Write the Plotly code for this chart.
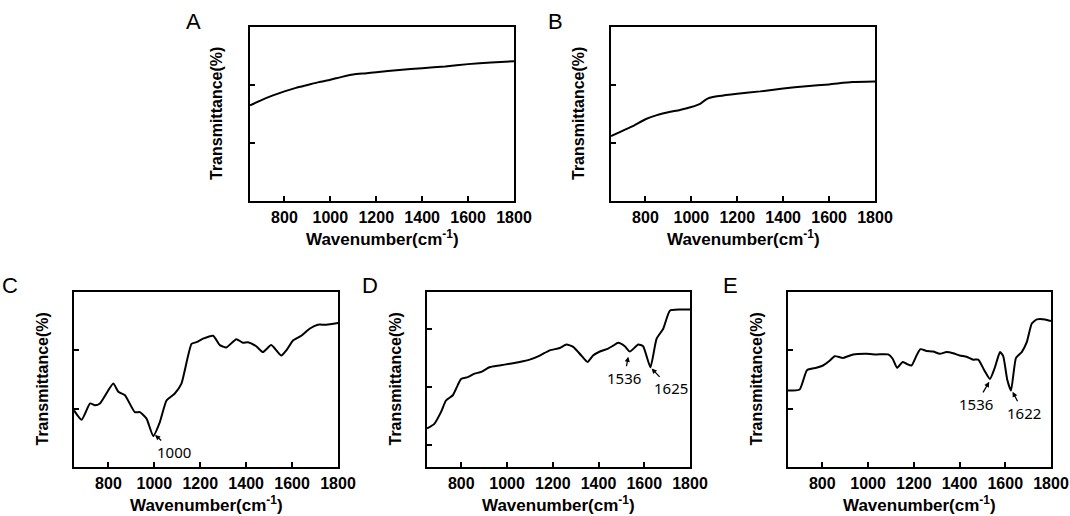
import plotly.graph_objects as go

W, H = 1070, 516

# ---------------- data ----------------
wn_a = [650, 700, 750, 800, 850, 900, 950, 1000, 1050, 1100, 1150, 1200, 1300, 1400, 1500, 1600, 1700, 1800]
t_a = [1.65, 1.74, 1.82, 1.89, 1.95, 2.00, 2.05, 2.09, 2.14, 2.18, 2.20, 2.22, 2.26, 2.29, 2.32, 2.36, 2.39, 2.41]

wn_b = [650, 700, 750, 800, 850, 900, 950, 1000, 1040, 1060, 1080, 1120, 1200, 1300, 1400, 1500, 1600, 1700, 1800]
t_b = [1.12, 1.21, 1.30, 1.41, 1.48, 1.53, 1.57, 1.62, 1.68, 1.74, 1.78, 1.81, 1.85, 1.89, 1.94, 1.98, 2.01, 2.05, 2.06]

wn_c = [650, 683, 720, 741, 763, 821, 843, 872, 915, 937, 966, 995, 1024, 1053, 1089, 1118, 1162, 1183,
        1212, 1256, 1285, 1314, 1357, 1386, 1408, 1444, 1473, 1509, 1553, 1575, 1604, 1640, 1676, 1712, 1749, 1800]
t_c = [0.97, 0.81, 1.09, 1.06, 1.09, 1.43, 1.29, 1.23, 0.94, 0.94, 0.83, 0.53, 0.77, 1.14, 1.26, 1.43, 2.11, 2.14,
       2.20, 2.25, 2.09, 2.05, 2.19, 2.13, 2.14, 2.07, 1.97, 2.09, 1.91, 2.00, 2.17, 2.25, 2.37, 2.44, 2.44, 2.47]

wn_d = [650, 682, 711, 733, 763, 784, 799, 828, 858, 887, 923, 967, 1011, 1055, 1099, 1143, 1187, 1230, 1260,
        1289, 1325, 1352, 1376, 1406, 1442, 1464, 1486, 1515, 1537, 1574, 1595, 1627, 1654, 1683, 1712, 1756, 1800]
t_d = [1.29, 1.37, 1.57, 1.77, 1.86, 2.03, 2.14, 2.17, 2.23, 2.26, 2.34, 2.37, 2.40, 2.43, 2.47, 2.54, 2.63, 2.67, 2.73,
       2.69, 2.54, 2.43, 2.54, 2.61, 2.66, 2.71, 2.76, 2.70, 2.61, 2.73, 2.70, 2.34, 2.83, 3.00, 3.31, 3.33, 3.33]

wn_e = [650, 701, 733, 774, 803, 832, 854, 891, 935, 993, 1037, 1088, 1107, 1127, 1151, 1168, 1190, 1212, 1229,
        1256, 1285, 1314, 1343, 1372, 1401, 1431, 1460, 1482, 1508, 1533, 1555, 1577, 1591, 1609, 1625, 1647,
        1672, 1694, 1716, 1738, 1774, 1800]
t_e = [1.31, 1.33, 1.66, 1.70, 1.74, 1.82, 1.90, 1.87, 1.93, 1.94, 1.93, 1.93, 1.86, 1.70, 1.80, 1.77, 1.74, 1.91, 2.02,
       1.99, 1.98, 1.94, 1.97, 1.95, 1.91, 1.89, 1.84, 1.84, 1.66, 1.51, 1.71, 1.97, 1.90, 1.49, 1.31, 1.87,
       1.97, 2.14, 2.46, 2.53, 2.53, 2.50]

x_ticks = [800, 1000, 1200, 1400, 1600, 1800]
x_tick_labels = ["800", "1000", "1200", "1400", "1600", "1800"]

panel_names = ["A", "B", "C", "D", "E"]
panel_x = [wn_a, wn_b, wn_c, wn_d, wn_e]
panel_y = [t_a, t_b, t_c, t_d, t_e]
y_ranges = [[0, 3], [0, 3], [0, 3], [0.63, 3.63], [0, 3]]
y_tickvals = [[1, 2], [1, 2], [1, 2], [1, 2, 3], [1, 2]]

# peak labels
peak_panel = [2, 3, 3, 4, 4]
peak_text = ["1000", "1536", "1625", "1536", "1622"]
peak_wn = [1003, 1530, 1632, 1530, 1632]
peak_val = [0.55, 2.52, 2.32, 1.46, 1.29]

# ---------------- layout (pixel boxes) ----------------
box_px = [(250, 514, 27, 201), (611, 875, 27, 201), (74, 338, 292, 467), (427, 690, 292, 467), (788, 1051, 292, 467)]
ytitle_px = [217, 579, 42, 395, 756]
letter_px = [(193, 22), (555, 22), (10, 285), (370, 285), (730, 285)]
peak_offsets = [(19, 17), (-4, 21), (19, 20), (-13, 22), (11, 21)]

fig = go.Figure()
layout = dict(width=W, height=H, margin=dict(l=0, r=0, t=0, b=0, autoexpand=False), template="none",
              paper_bgcolor="white", plot_bgcolor="white", showlegend=False)
annotations = []
FONT = "Liberation Sans"

for i, name in enumerate(panel_names):
    xl, xr, yt, yb = box_px[i]
    k = "" if i == 0 else str(i + 1)
    fig.add_trace(go.Scatter(x=panel_x[i], y=panel_y[i], mode="lines", xaxis="x" + k, yaxis="y" + k,
                             line=dict(color="black", width=2, shape="spline", smoothing=0.5),
                             hoverinfo="skip"))
    layout["xaxis" + k] = dict(domain=[xl / W, xr / W], anchor="y" + k, range=[650, 1800],
                              tickvals=x_ticks, ticktext=["<b>%s</b>" % t for t in x_tick_labels],
                              ticks="inside", ticklen=5, tickwidth=1.5, tickcolor="black",
                              ticklabelstandoff=1, automargin=False,
                              showline=True, mirror=True, linecolor="black", linewidth=2,
                              showgrid=False, zeroline=False,
                              tickfont=dict(family=FONT, size=16, color="black"))
    layout["yaxis" + k] = dict(domain=[1 - yb / H, 1 - yt / H], anchor="x" + k, range=y_ranges[i],
                              tickvals=y_tickvals[i], showticklabels=False, ticks="inside", ticklen=5,
                              tickwidth=1.5, tickcolor="black", showline=True, mirror=True, automargin=False,
                              linecolor="black", linewidth=2, showgrid=False, zeroline=False)
    lx, ly = letter_px[i]
    annotations.append(dict(text=name, x=lx / W, y=1 - ly / H, xref="paper", yref="paper",
                            showarrow=False, xanchor="center", yanchor="middle",
                            font=dict(family=FONT, size=22, color="black")))
    annotations.append(dict(text="<b>Transmittance(%)</b>", x=ytitle_px[i] / W, y=1 - (yt + yb) / 2 / H,
                            xref="paper", yref="paper", textangle=-90, showarrow=False,
                            xanchor="center", yanchor="middle",
                            font=dict(family=FONT, size=16, color="black")))
    annotations.append(dict(text="<b>Wavenumber(cm<sup>-1</sup>)</b>", x=(xl + xr) / 2 / W,
                            y=1 - (yb + 37) / H, xref="paper", yref="paper", showarrow=False,
                            xanchor="center", yanchor="middle",
                            font=dict(family=FONT, size=17, color="black")))

for p, t, wx, wv, (ax, ay) in zip(peak_panel, peak_text, peak_wn, peak_val, peak_offsets):
    k = "" if p == 0 else str(p + 1)
    annotations.append(dict(text=t, x=wx, y=wv, xref="x" + k, yref="y" + k,
                            showarrow=True, arrowhead=2, arrowsize=0.8, arrowwidth=1.3, arrowcolor="black",
                            ax=ax, ay=ay, standoff=0,
                            font=dict(family="Noto Sans", size=15, color="black")))

layout["annotations"] = annotations
fig.update_layout(**layout)
fig.write_html("out.html", config={"responsive": False, "displayModeBar": False},
               post_script="document.body.style.margin='0';document.body.style.overflow='hidden';")
